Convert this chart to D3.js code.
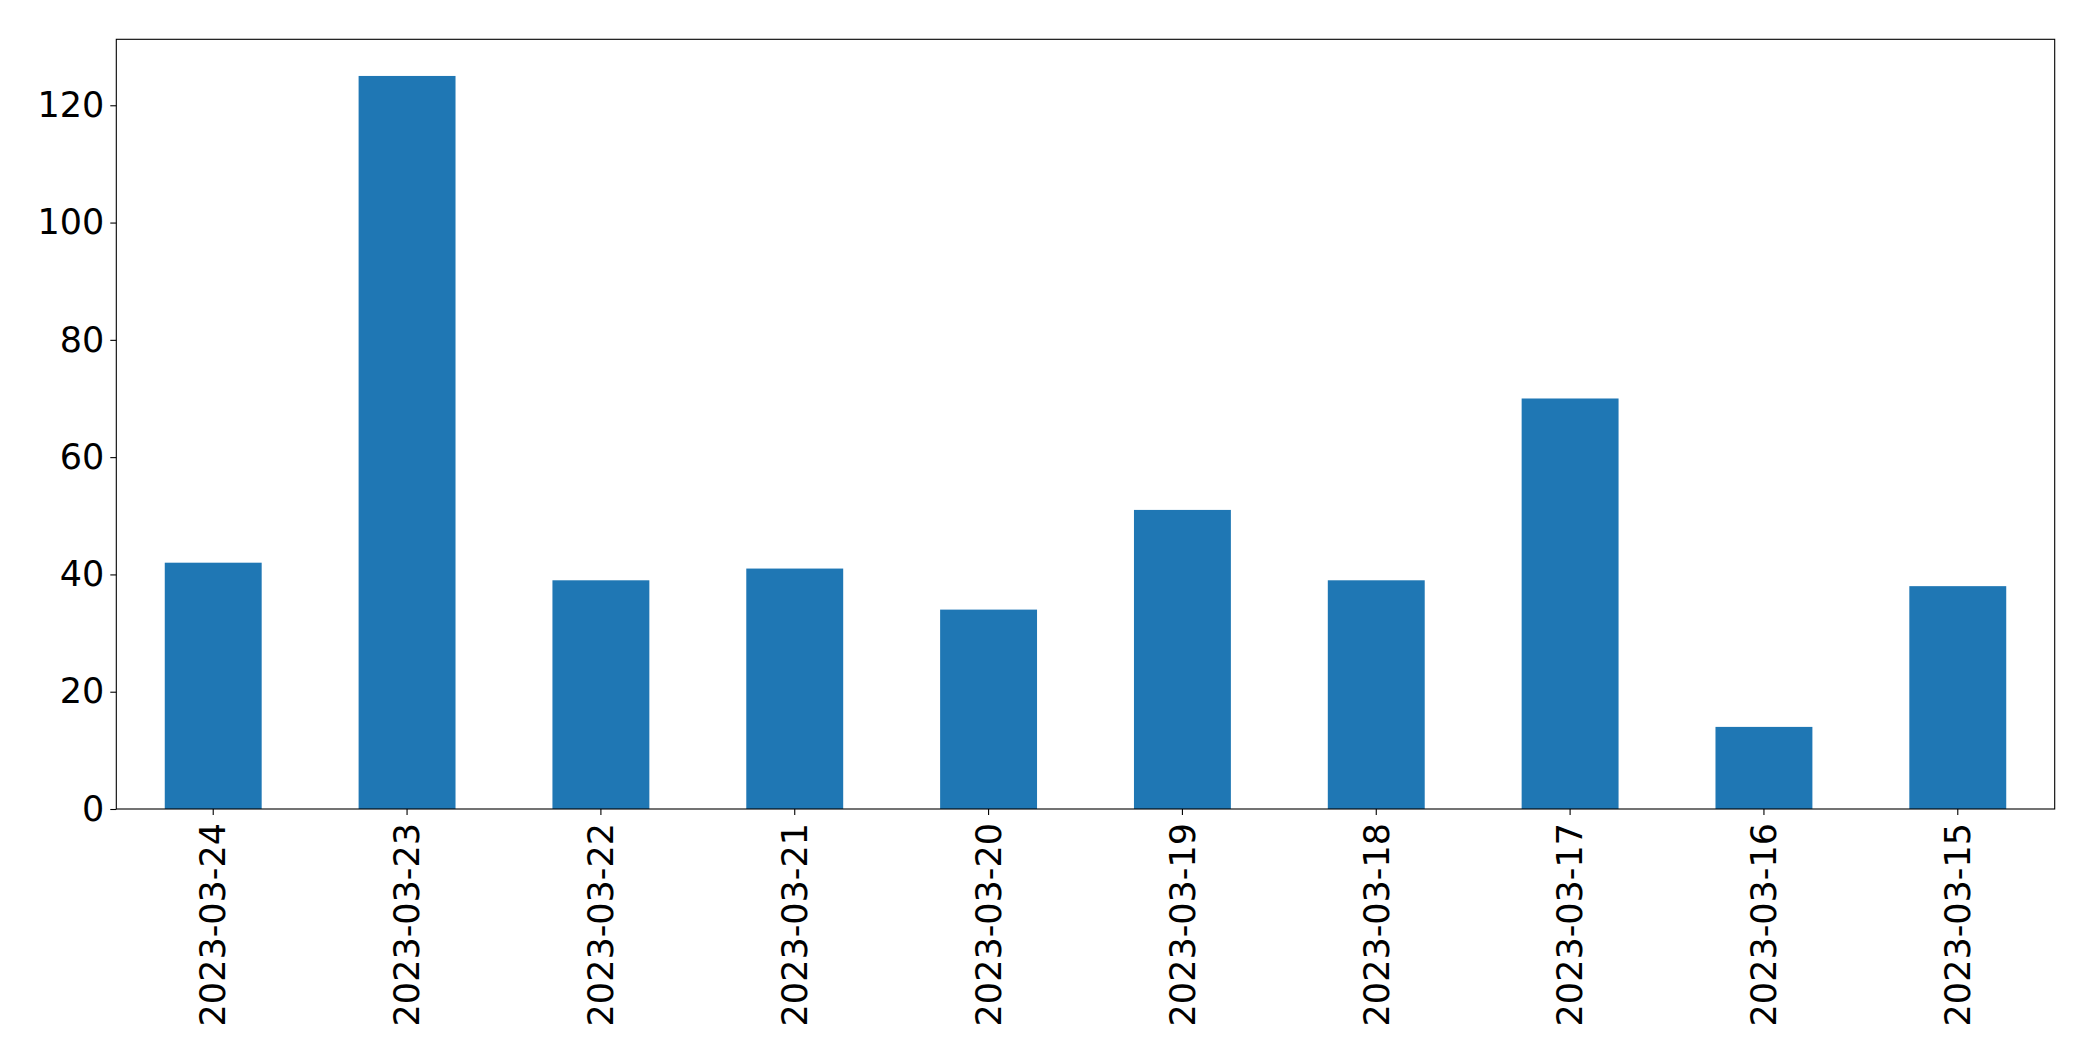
<!DOCTYPE html>
<html>
<head>
<meta charset="utf-8">
<script src="https://cdn.jsdelivr.net/npm/d3@7"></script>
<style>
  html, body { margin: 0; padding: 0; background: #fff; }
  svg { display: block; font-family: "DejaVu Sans", sans-serif; }
</style>
</head>
<body>
<svg id="chart" width="2093" height="1061"></svg>
<script>
const categories = ["2023-03-24","2023-03-23","2023-03-22","2023-03-21","2023-03-20","2023-03-19","2023-03-18","2023-03-17","2023-03-16","2023-03-15"];
const values = [42, 125, 39, 41, 34, 51, 39, 70, 14, 38];
const yTicks = [0, 20, 40, 60, 80, 100, 120];

const svg = d3.select("#chart");
const margin = { left: 116.3, right: 2093 - 2054.7, top: 39.3, bottom: 1061 - 809 };
const W = 2093, H = 1061;
const innerW = W - margin.left - margin.right;
const innerH = H - margin.top - margin.bottom;

const g = svg.append("g").attr("transform", `translate(${margin.left},${margin.top})`);

const x = d3.scaleBand().domain(categories).range([0, innerW]).paddingInner(0.5).paddingOuter(0.25);
const y = d3.scaleLinear().domain([0, d3.max(values) * 1.05]).range([innerH, 0]);

g.selectAll("rect.bar").data(values).join("rect")
  .attr("class", "bar")
  .attr("x", (d, i) => x(categories[i]))
  .attr("width", x.bandwidth())
  .attr("y", d => y(d))
  .attr("height", d => y(0) - y(d))
  .attr("fill", "#1f77b4");

// frame
g.append("rect").attr("x", 0).attr("y", 0).attr("width", innerW).attr("height", innerH)
  .attr("fill", "none").attr("stroke", "#000").attr("stroke-width", 1.1);

const yAxis = g.append("g").call(d3.axisLeft(y).tickValues(yTicks).tickSize(6).tickPadding(6).tickFormat(d3.format("d")));
yAxis.select(".domain").remove();
yAxis.selectAll("line").attr("stroke", "#000").attr("stroke-width", 1.1);
yAxis.selectAll("text").attr("font-size", 35).attr("fill", "#000").attr("font-family", "DejaVu Sans");

const xAxis = g.append("g").attr("transform", `translate(0,${innerH})`)
  .call(d3.axisBottom(x).tickSize(6).tickPadding(0));
xAxis.select(".domain").remove();
xAxis.selectAll("line").attr("stroke", "#000").attr("stroke-width", 1.1);
xAxis.selectAll("text")
  .attr("font-size", 35).attr("fill", "#000").attr("font-family", "DejaVu Sans")
  .attr("transform", "rotate(-90)")
  .attr("text-anchor", "end")
  .attr("dy", "0.35em")
  .attr("x", -14)
  .attr("y", 0);
</script>
</body>
</html>
